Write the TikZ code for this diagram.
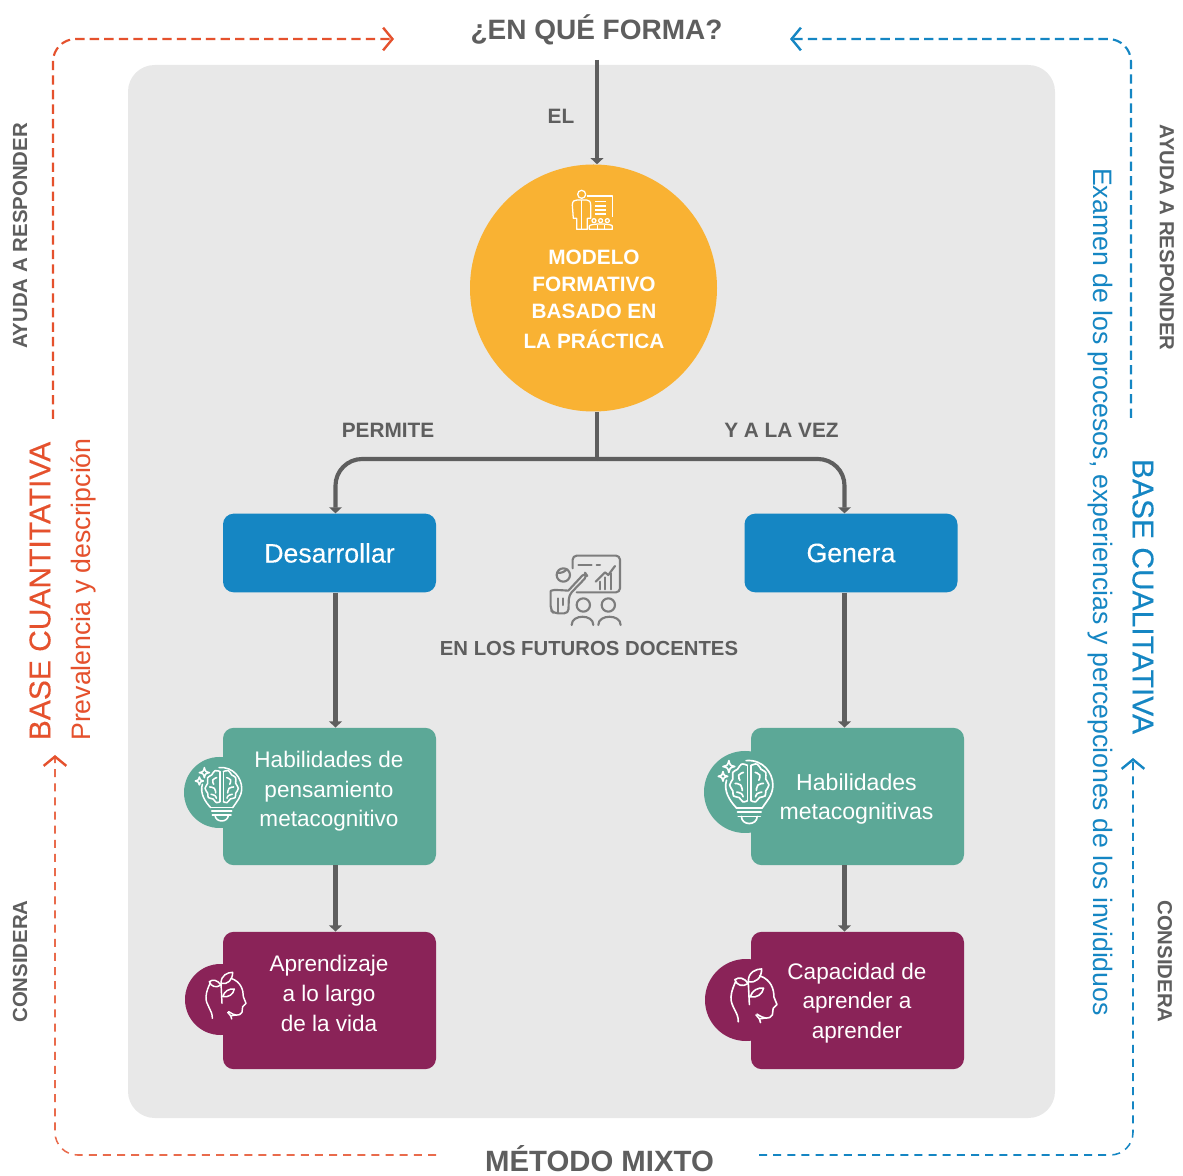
\documentclass[tikz,border=0pt]{standalone}
\usepackage{fontspec}
\setmainfont{Liberation Sans}
\newfontfamily\medfont[FakeBold=0.25]{Liberation Sans}
\usetikzlibrary{arrows.meta,calc}
\definecolor{panelgrey}{HTML}{E8E8E8}
\definecolor{inkgrey}{HTML}{5E5E5E}
\definecolor{icongrey}{HTML}{7D7D7D}
\definecolor{amber}{HTML}{F9B233}
\definecolor{bluebox}{HTML}{1586C3}
\definecolor{greenbox}{HTML}{5CA897}
\definecolor{plum}{HTML}{8A2358}
\definecolor{redline}{HTML}{E5512D}
\tikzset{
  boxshape/.style={rectangle,rounded corners=8pt,minimum width=159.75pt,minimum height=#1,inner sep=0pt},
  flow/.style={draw=inkgrey,line width=3.1pt,-{Triangle[length=4.6pt,width=9.5pt]}},
  flowplain/.style={draw=inkgrey,line width=3.1pt},
  dashtop/.style={line width=1.6pt,dash pattern=on 7pt off 3.9pt,-{Straight Barb[length=7pt,width=17pt,line width=1.8pt]},rounded corners=17pt},
  dashbot/.style={line width=1.15pt,dash pattern=on 6pt off 4.6pt,rounded corners=17pt},
  greylabel/.style={text=inkgrey,font=\bfseries\fontsize{15.6}{18}\selectfont,inner sep=0pt},
  sidelabel/.style={text=inkgrey,font=\bfseries\fontsize{15.3}{18}\selectfont,inner sep=0pt},
  boxtext/.style={text=white,align=center,inner sep=0pt,font=\fontsize{16.9}{22.2}\selectfont},
  headtext/.style={text=white,font=\bfseries\fontsize{15.6}{20}\selectfont,inner sep=0pt},
  bigside/.style={inner sep=0pt,font=\medfont\fontsize{22.5}{24}\selectfont},
  smallside/.style={inner sep=0pt,font=\fontsize{20}{24}\selectfont},
  tipred/.style={-{Straight Barb[length=7pt,width=17pt,line width=1.8pt,color=redline]}},
  tipblue/.style={-{Straight Barb[length=7pt,width=17pt,line width=1.8pt,color=bluebox]}},
}
\newcommand{\sparkle}[3]{\draw (#1-#3,#2) .. controls (#1-.2*#3,#2-.2*#3) .. (#1,#2-#3) .. controls (#1+.2*#3,#2-.2*#3) .. (#1+#3,#2) .. controls (#1+.2*#3,#2+.2*#3) .. (#1,#2+#3) .. controls (#1-.2*#3,#2+.2*#3) .. cycle;}
\newcommand{\lobe}{%
  \draw plot[smooth,tension=.7] coordinates {(5,-50) (20,-53) (30,-40) (42,-32) (42,-15) (50,0) (42,15) (40,28) (26,32) (16,43) (5,40)};
  \draw plot[smooth,tension=.8] coordinates {(15,-32) (27,-25) (24,-12)};
  \draw plot[smooth,tension=.8] coordinates {(36,-4) (22,0) (18,14)};
  \draw plot[smooth,tension=.8] coordinates {(32,18) (20,22) (16,30)};
}
\newcommand{\bulbicon}[4]{%
  \begin{scope}[shift={(#1,#2)},scale=#3,draw=white,line width=#4,line cap=round,line join=round]
    \draw (-8,-62) .. controls (35,-66) and (60,-30) .. (60,0) .. controls (60,25) and (45,40) .. (33,58);
    \draw (-58,-12) .. controls (-66,15) and (-50,40) .. (-33,58);
    \draw (-33,58) -- (33,58);
    \draw (-30,68) -- (30,68);
    \draw (-28,80) -- (28,80);
    \draw (-20,80) .. controls (-20,104) and (20,104) .. (20,80);
    \draw (-5,-50) -- (-5,40);
    \draw (5,-50) -- (5,40);
    \lobe
    \begin{scope}[xscale=-1]\lobe\end{scope}
    \sparkle{-52}{-47}{15}
    \sparkle{-67}{-22}{12}
  \end{scope}}
\newcommand{\headicon}[4]{%
  \begin{scope}[shift={(#1,#2)},scale=#3,draw=white,line width=#4,line cap=round,line join=round]
    \draw (-41,70) .. controls (-40,45) and (-62,30) .. (-60,5) .. controls (-59,-12) and (-52,-25) .. (-48,-35);
    \draw (15,-50) .. controls (45,-40) and (52,-15) .. (52,5) -- (60,25) -- (50,35) -- (48,52) .. controls (40,65) and (25,62) .. (8,50);
    \draw (5,52) .. controls (8,58) and (15,58) .. (17,72);
    \draw (17,62) -- (30,60);
    \draw (-12,25) -- (-15,-35);
    \draw (-15,-35) .. controls (-15,-60) and (5,-68) .. (20,-68) .. controls (20,-45) and (5,-30) .. (-15,-35);
    \draw (-15,-30) .. controls (-25,-45) and (-40,-48) .. (-50,-40) .. controls (-45,-25) and (-30,-20) .. (-15,-30);
    \draw (-10,5) .. controls (-5,-12) and (10,-20) .. (25,-18) .. controls (22,-2) and (8,8) .. (-10,5);
  \end{scope}}
\begin{document}
\begin{tikzpicture}[x=.75pt,y=-.75pt]
\useasboundingbox (0,0) rectangle (1183,1176);
\fill[white] (0,0) rectangle (1183,1176);
% panel
\fill[panelgrey,rounded corners=20pt] (128,65) rectangle (1055,1118);

% named points
\coordinate (topstart) at (597,60);
\coordinate (junction) at (597,459);
\coordinate (redA) at (53,419);
\coordinate (redB) at (394,39);
\coordinate (redC) at (436,1155);
\coordinate (redD) at (55,755);
\coordinate (blueA) at (1131,418);
\coordinate (blueB) at (790,39);
\coordinate (blueC) at (759,1155);
\coordinate (blueD) at (1133,758);

% badges
\node[circle,fill=greenbox,minimum size=53.25pt,inner sep=0pt] (bgl) at (219.5,792.5) {};
\node[circle,fill=plum,minimum size=53.25pt,inner sep=0pt] (bpl) at (220.5,999.5) {};
\node[circle,fill=greenbox,minimum size=61.5pt,inner sep=0pt] (bgr) at (745,792) {};
\node[circle,fill=plum,minimum size=61.5pt,inner sep=0pt] (bpr) at (746,1000) {};

% main shapes
\node[circle,fill=amber,minimum size=185.25pt,inner sep=0pt] (model) at (593.5,288) {};
\node[boxshape=59pt,fill=bluebox,text=white,font=\medfont\fontsize{20}{22}\selectfont] (des) at (329.5,553) {Desarrollar};
\node[boxshape=59pt,fill=bluebox,text=white,font=\medfont\fontsize{20}{22}\selectfont] (gen) at (851,553) {Genera};
\node[boxshape=103pt,fill=greenbox] (gl) at (329.5,796.5) {};
\node[boxshape=103pt,fill=greenbox] (gr) at (857.5,796.5) {};
\node[boxshape=103pt,fill=plum] (pl) at (329.5,1000.5) {};
\node[boxshape=103pt,fill=plum] (pr) at (857.5,1000.5) {};

% connector x positions
\coordinate (dlane) at ($(des.north)+(6,0)$);
\coordinate (glane) at ($(gen.north)+(-6.5,0)$);

% connectors
\draw[flow] (topstart) -- (topstart |- model.north);
\draw[flowplain] (topstart |- model.south) -- (junction);
\draw[flow,rounded corners=20pt] (junction) -- (dlane |- junction) -- (dlane);
\draw[flow,rounded corners=20pt] (junction) -- (glane |- junction) -- (glane);
\draw[flow] (dlane |- des.south) -- (dlane |- gl.north);
\draw[flow] (glane |- gen.south) -- (glane |- gr.north);
\draw[flow] (dlane |- gl.south) -- (dlane |- pl.north);
\draw[flow] (glane |- gr.south) -- (glane |- pr.north);

% dashed frame
\draw[dashtop,redline] (redA) -- (53,39) -- (redB);
\draw[dashbot,tipred,redline!85!white] (redC) -- (55,1155) -- (redD);
\draw[dashtop,bluebox] (blueA) -- (1131,39) -- (blueB);
\draw[dashbot,tipblue,bluebox] (blueC) -- (1133,1155) -- (blueD);

% teacher icon in circle
\begin{scope}[shift={(460,150)},scale=.3333,draw=white,line width=.95pt,line join=round]
  \draw (365,133) circle (12);
  \draw (350,238) -- (350,205) -- (340,205) -- (337,165) .. controls (337,152) and (345,150) .. (352,150) -- (380,150) .. controls (388,150) and (392,155) .. (392,165) -- (392,205) -- (382,205) -- (382,238) -- cycle;
  \draw (365,150) -- (365,238);
  \draw (380,138) -- (457,138) -- (457,200);
  \foreach \yy in {155,168,180,192} \draw (405,\yy) -- (437,\yy);
  \foreach \xx in {402,422,442} \draw (\xx,212) circle (6);
  \draw (388,238) -- (388,228) .. controls (390,220) and (455,220) .. (457,228) -- (457,238) -- cycle;
  \draw (412,238) -- (412,226);
  \draw (433,238) -- (433,226);
\end{scope}

% presentation icon
\begin{scope}[shift={(430,540)},scale=.3333,draw=icongrey,line width=1.6pt,line join=round,line cap=round]
  \draw[rounded corners=3pt] (428,85) -- (428,47) -- (570,47) -- (570,157) -- (440,157);
  \draw (445,75) -- (485,75);
  \draw (500,75) -- (510,75);
  \draw (497,125) -- (525,97) -- (535,105) -- (555,78);
  \draw (510,148) -- (510,125);
  \draw (525,148) -- (525,112);
  \draw (542,148) -- (542,100);
  \draw (400,105) circle (20);
  \draw (382,98) .. controls (395,100) and (405,95) .. (412,88);
  \draw[rounded corners=3pt] (415,152) -- (465,98) -- (472,108) -- (417,165) -- (415,220) -- (372,220) -- (362,210) -- (362,165) .. controls (362,152) and (372,150) .. (385,150) -- (415,152);
  \draw (385,175) -- (385,218);
  \draw (400,175) -- (400,195);
  \draw (460,195) circle (20);
  \draw (535,195) circle (20);
  \draw (425,255) .. controls (425,222) and (490,222) .. (490,255);
  \draw (505,255) .. controls (505,222) and (572,222) .. (572,255);
\end{scope}

\bulbicon{221.7}{788.3}{.3333}{1.15pt}
\bulbicon{749.3}{785}{.393}{1.25pt}
\headicon{226}{995}{.3333}{1.1pt}
\headicon{754}{995}{.383}{1.2pt}

% texts
\node[text=inkgrey,font=\bfseries\fontsize{21}{24}\selectfont,inner sep=0pt] (q) at (596.5,30) {¿EN QUÉ FORMA?};
\node[text=inkgrey,font=\bfseries\fontsize{22}{24}\selectfont,inner sep=0pt] (mm) at (599.5,1158.5) {MÉTODO MIXTO};
\node[greylabel] (el) at (561,116) {EL};
\node[greylabel] (perm) at (388,430) {PERMITE};
\node[greylabel] (yala) at (781.5,430) {Y A LA VEZ};
\node[greylabel,font=\bfseries\fontsize{15.25}{18}\selectfont] (fut) at (589,649) {EN LOS FUTUROS DOCENTES};
\node[headtext] (t1) at (594,257) {MODELO};
\node[headtext] (t2) at (594,284.5) {FORMATIVO};
\node[headtext] (t3) at (594,311.5) {BASADO EN};
\node[headtext] (t4) at (594,339) {LA PRÁCTICA};
\node[boxtext] (tgl) at (329,791.5) {Habilidades de\\pensamiento\\metacognitivo};
\node[boxtext,font=\fontsize{17.3}{22.2}\selectfont] (tgr) at (856.5,799) {Habilidades\\metacognitivas};
\node[boxtext] (tpl) at (329,993.5) {Aprendizaje\\a lo largo\\de la vida};
\node[boxtext] (tpr) at (857,1003) {Capacidad de\\aprender a\\aprender};

\node[sidelabel,rotate=90] (l1) at (20,236) {AYUDA A RESPONDER};
\node[sidelabel,rotate=90] (l2) at (20,961.5) {CONSIDERA};
\node[sidelabel,rotate=-90] (r1) at (1167,237.5) {AYUDA A RESPONDER};
\node[sidelabel,rotate=-90] (r2) at (1165,961.5) {CONSIDERA};
\node[rotate=90,text=redline,bigside] (bq) at (40,591) {BASE CUANTITATIVA};
\node[rotate=90,text=redline,smallside] (pd) at (83,589.5) {Prevalencia y descripción};
\node[rotate=-90,text=bluebox,bigside] (bc) at (1143,596.5) {BASE CUALITATIVA};
\node[rotate=-90,text=bluebox,smallside] (ex) at (1100,592) {Examen de los procesos, experiencias y percepciones de los invididuos};
\end{tikzpicture}
\end{document}
